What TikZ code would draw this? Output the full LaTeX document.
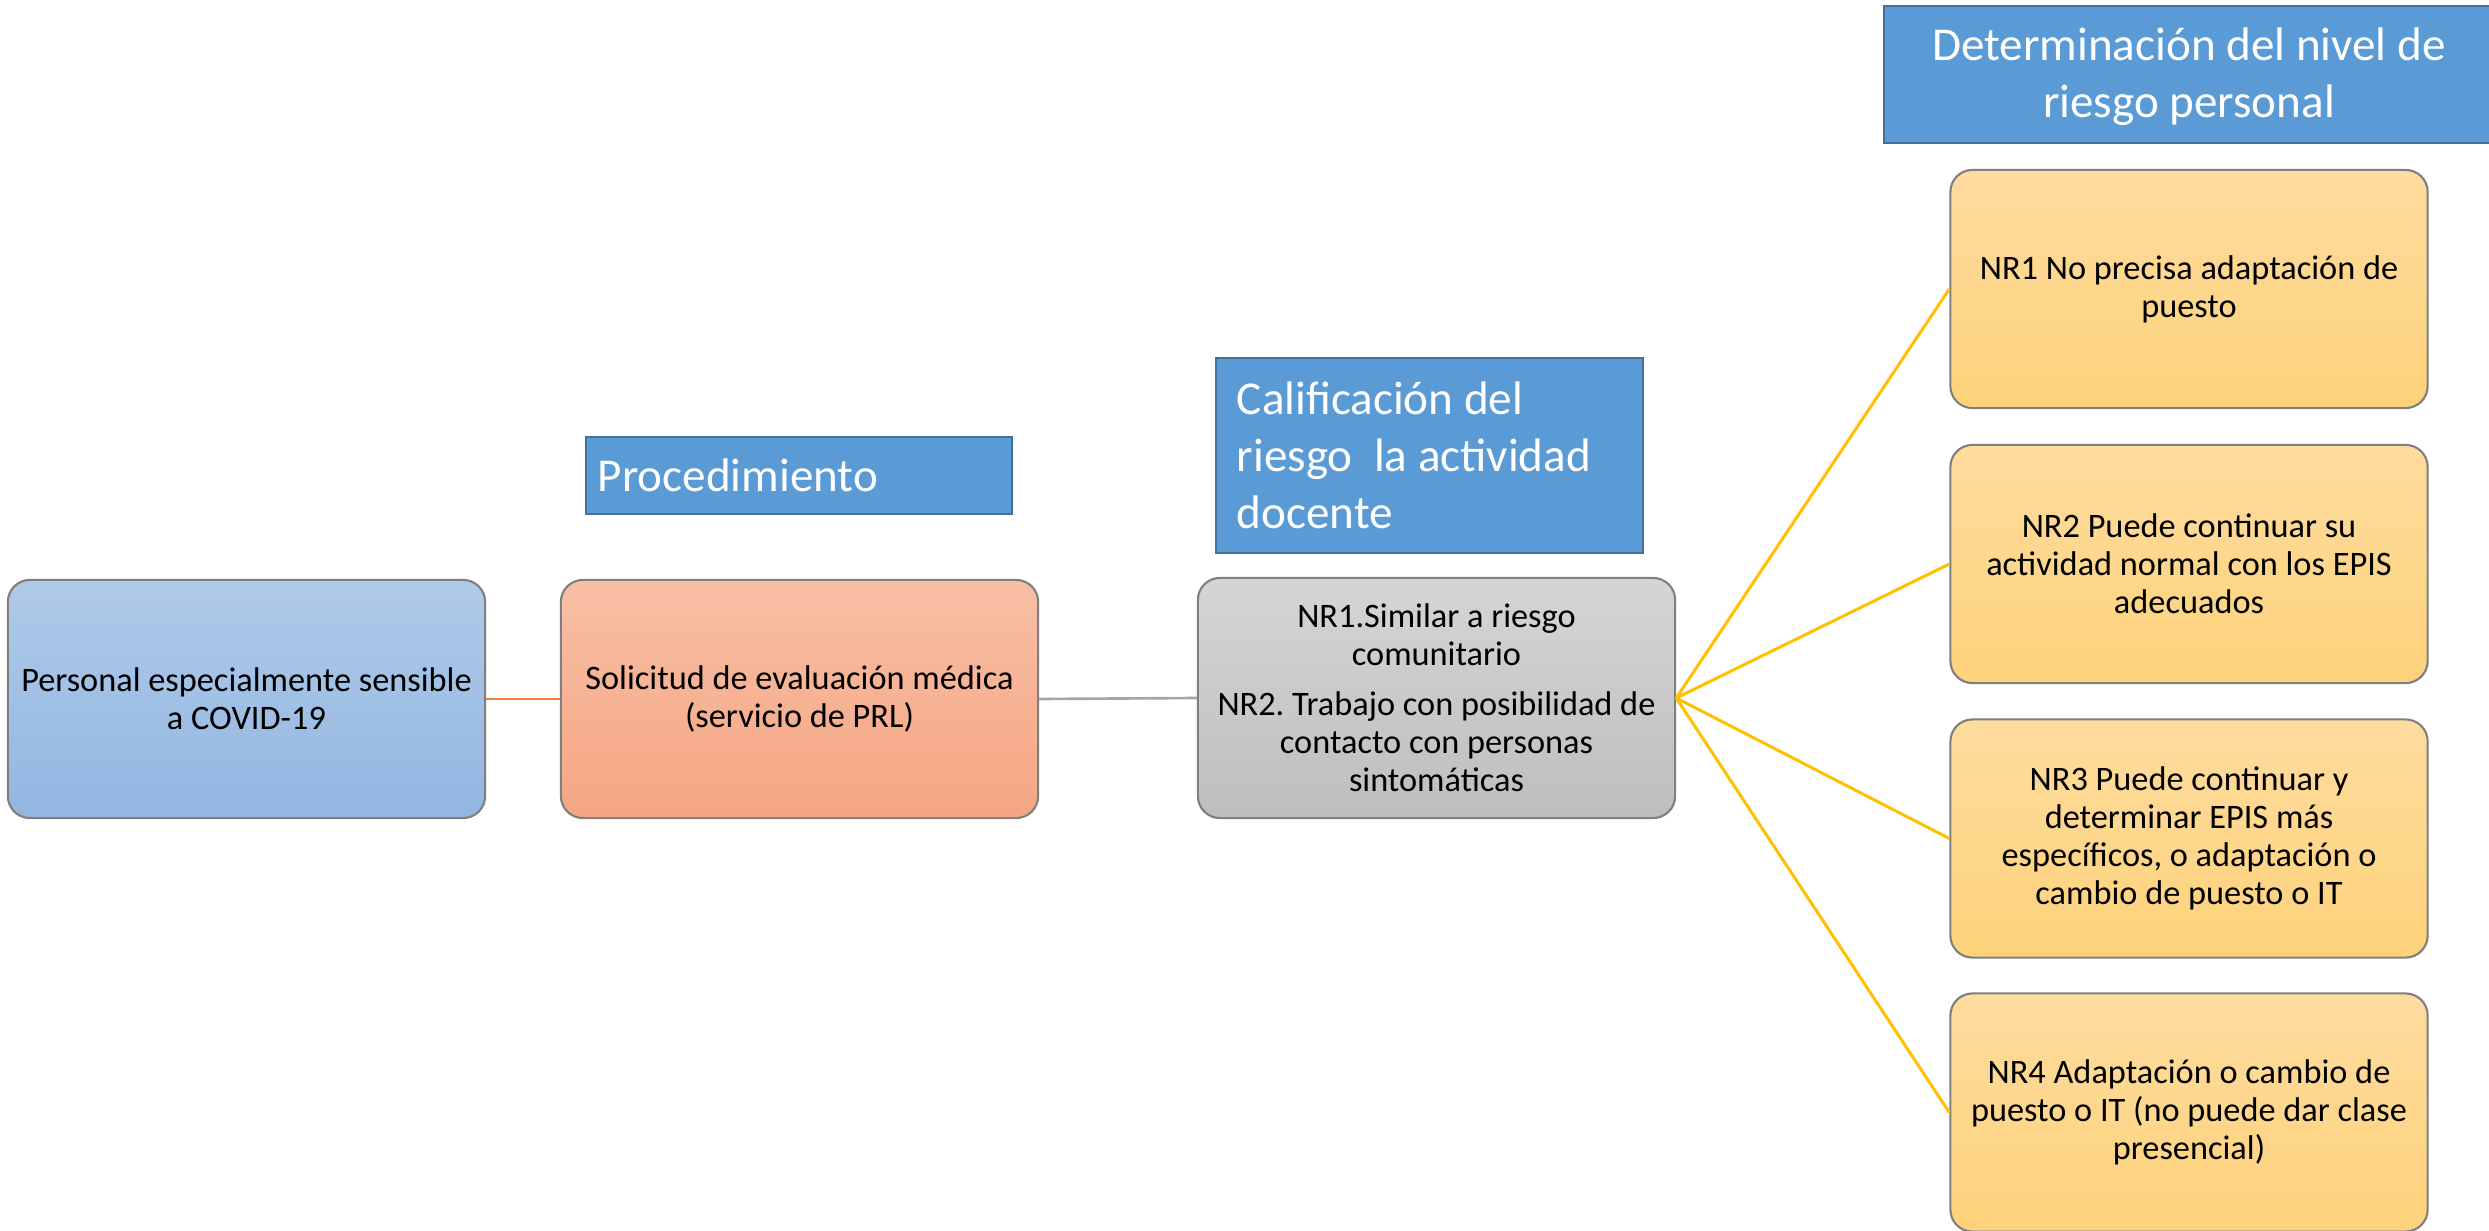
\documentclass[tikz,border=0pt]{standalone}
\usepackage{fontspec}
\setmainfont{Carlito}
\frenchspacing
\definecolor{hdrfill}{HTML}{5B9BD5}
\definecolor{hdrline}{HTML}{41719C}
\definecolor{boxline}{HTML}{7F7F7F}
\definecolor{blueTop}{HTML}{B0CAE8}
\definecolor{blueBot}{HTML}{92B6E2}
\definecolor{salTop}{HTML}{F8BFA5}
\definecolor{salBot}{HTML}{F5A683}
\definecolor{grayTop}{HTML}{D5D5D5}
\definecolor{grayBot}{HTML}{BEBEBE}
\definecolor{yelTop}{HTML}{FEDC9F}
\definecolor{yelBot}{HTML}{FDD27A}
\definecolor{linkOrange}{HTML}{ED7D31}
\definecolor{linkGray}{HTML}{A5A5A5}
\definecolor{linkYellow}{HTML}{FFC000}
\begin{document}
\begin{tikzpicture}[x=0.01cm,y=-0.01cm,
  box/.style={rounded corners=0.22cm, draw=boxline, line width=0.6pt,
    minimum width=4.77cm, minimum height=2.38cm, inner sep=0pt, align=center,
    font=\fontsize{9.76}{10.8}\selectfont},
  bluebox/.style={box, top color=blueTop, bottom color=blueBot},
  salbox/.style={box, top color=salTop, bottom color=salBot},
  graybox/.style={box, top color=grayTop, bottom color=grayBot, minimum height=2.4cm},
  yelbox/.style={box, top color=yelTop, bottom color=yelBot},
  hdr/.style={draw=hdrline, fill=hdrfill, line width=0.7pt, text=white,
    font=\fontsize{13.4}{16.2}\selectfont, inner ysep=0pt},
  hdrtext/.style={text=white, font=\fontsize{13.4}{16.2}\selectfont, align=center, inner sep=0pt},
  olink/.style={draw=linkOrange, line width=0.75pt},
  glink/.style={draw=linkGray, line width=0.75pt},
  ylink/.style={draw=linkYellow, line width=0.85pt}
]
\useasboundingbox (0,0) rectangle (2489,1231);

% headers
\node[hdr, minimum width=4.26cm, minimum height=0.77cm, text width=4.02cm,
  inner xsep=0.12cm, align=flush left] (h1) at (799,475.5) {Procedimiento};
\node[hdr, minimum width=4.27cm, minimum height=1.95cm, text width=3.85cm,
  inner xsep=0.21cm, align=flush left] (h2) at (1429.5,455.5)
  {Calificación del\\riesgo\ \ la actividad\\docente};
\node[hdr, minimum width=6.3cm, minimum height=1.37cm, anchor=west] (h3) at (1883,74.5) {};
\node[hdrtext] (h3t) at (2189,77) {Determinación del nivel de\\riesgo personal};

% main boxes
\node[bluebox] (a) at (246.5,699) {Personal especialmente sensible\\a COVID-19};
\node[salbox] (b) at (799.5,699) {Solicitud de evaluación médica\\(servicio de PRL)};
\node[graybox] (c) at (1436.5,698) {NR1.Similar a riesgo\\comunitario\\[3.4pt]NR2. Trabajo con posibilidad de\\contacto con personas\\sintomáticas};

% level boxes
\node[yelbox] (n1) at (2189,289) {NR1 No precisa adaptación de\\puesto};
\node[yelbox] (n2) at (2189,564) {NR2 Puede continuar su\\actividad normal con los EPIS\\adecuados};
\node[yelbox] (n3) at (2189,838.5) {NR3 Puede continuar y\\determinar EPIS más\\específicos, o adaptación o\\cambio de puesto o IT};
\node[yelbox] (n4) at (2189,1112.5) {NR4 Adaptación o cambio de\\puesto o IT (no puede dar clase\\presencial)};

% connectors
\draw[olink] (a.east) -- (b.west);
\draw[glink] (b.east) -- (c.west);
\draw[ylink] (c.east) -- (n1.west);
\draw[ylink] (c.east) -- (n2.west);
\draw[ylink] (c.east) -- (n3.west);
\draw[ylink] (c.east) -- (n4.west);
\end{tikzpicture}
\end{document}
